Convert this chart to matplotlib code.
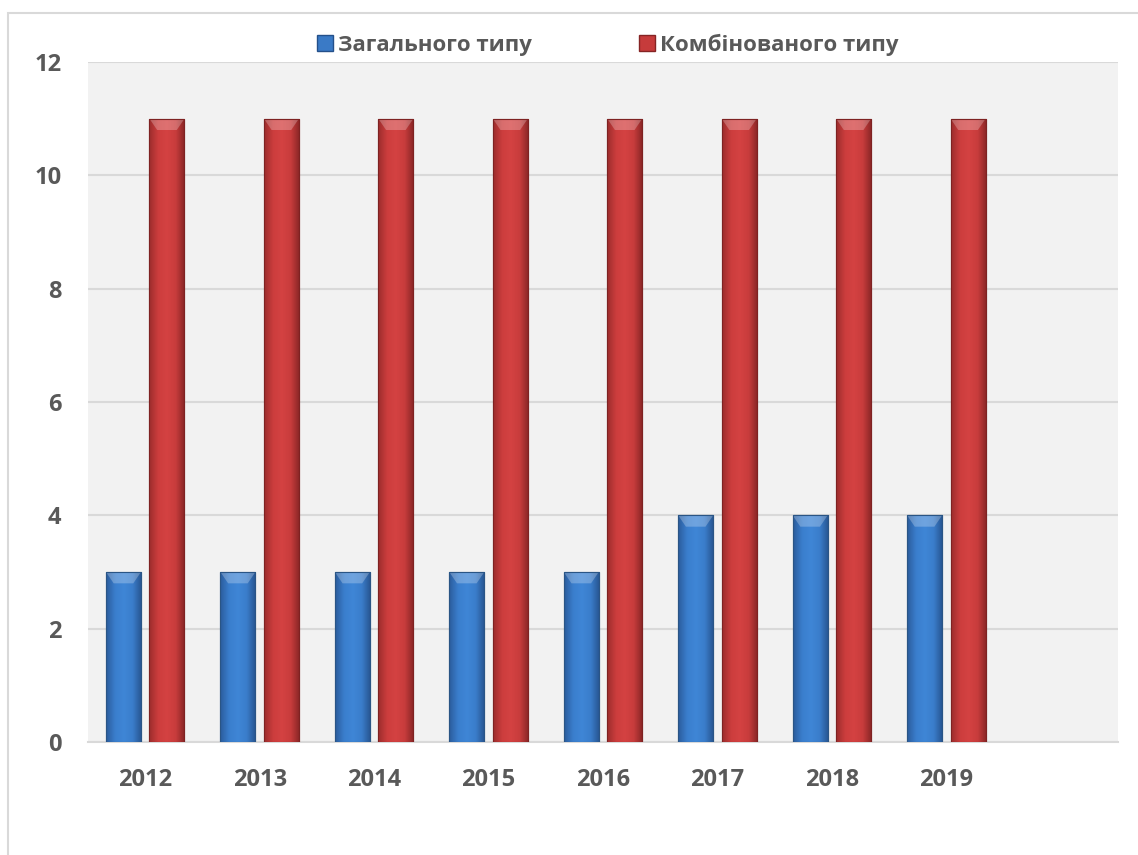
import numpy as np
import matplotlib
matplotlib.use("Agg")
import matplotlib.pyplot as plt
from matplotlib.colors import LinearSegmentedColormap
from matplotlib.lines import Line2D
from matplotlib.patches import Rectangle

plt.rcParams['font.family'] = ['Open Sans', 'Lato', 'DejaVu Sans']
plt.rcParams['font.weight'] = 'bold'

# data
years = ["2012", "2013", "2014", "2015", "2016", "2017", "2018", "2019"]
general = [3, 3, 3, 3, 3, 4, 4, 4]
combined = [11, 11, 11, 11, 11, 11, 11, 11]
series_names = ["Загального типу", "Комбінованого типу"]

TEXT = "#595959"
GRID = "#d9d9d9"

blue_cmap = LinearSegmentedColormap.from_list("b", ["#2b5c9c", "#3a7ecd", "#3f86d6", "#3a7dcb", "#27548f"])
red_cmap = LinearSegmentedColormap.from_list("r", ["#9c2d2d", "#cc3d3d", "#d44242", "#c83c3c", "#882626"])

fig = plt.figure(figsize=(11.38, 8.55), dpi=100)
# outer chart border
fig.patches.append(Rectangle((8 / 1138, -0.05), 1.2, 1 - 13 / 855 + 0.05,
                             transform=fig.transFigure, fill=False,
                             edgecolor="#d9d9d9", linewidth=1.5))

ax = fig.add_axes([88 / 1138, 1 - 742 / 855, (1118 - 88) / 1138, (742 - 62) / 855])
ax.set_facecolor("#f2f2f2")

x = np.arange(len(years))
w = 0.306
off = 0.19
bars1 = ax.bar(x - off, general, w, color="#3a7ac6", edgecolor="#2a5585", linewidth=0.8, zorder=3)
bars2 = ax.bar(x + off, combined, w, color="#c63b3b", edgecolor="#7e2222", linewidth=0.8, zorder=3)

# gradient fill clipped to each bar
grad = np.linspace(0, 1, 64).reshape(1, -1)
for bars, cmap in ((bars1, blue_cmap), (bars2, red_cmap)):
    for p in bars:
        x0, y0, bw, bh = p.get_x(), p.get_y(), p.get_width(), p.get_height()
        im = ax.imshow(grad, extent=[x0, x0 + bw, y0, y0 + bh], aspect="auto",
                       cmap=cmap, zorder=3.5, interpolation="bicubic")
        im.set_clip_path(p)
        # bevel highlight on top
        bev = 0.2
        ax.fill([x0, x0 + bw, x0 + bw * 0.78, x0 + bw * 0.22],
                [y0 + bh, y0 + bh, y0 + bh - bev, y0 + bh - bev],
                color="white", alpha=0.25, zorder=3.6, linewidth=0)
        ax.add_patch(Rectangle((x0, y0), bw, bh, fill=False,
                               edgecolor=p.get_edgecolor(), linewidth=0.8, zorder=3.7))

ax.set_xlim(-0.5, len(years) + 0.5)
ax.set_ylim(0, 12)
ax.set_yticks(range(0, 13, 2))
ax.set_xticks(x)
ax.set_xticklabels(years)
ax.grid(axis="y", color=GRID, linewidth=1.5, zorder=0)
ax.set_axisbelow(True)
for s in ("top", "right", "left"):
    ax.spines[s].set_visible(False)
ax.spines["bottom"].set_color(GRID)
ax.spines["bottom"].set_linewidth(1.5)
ax.tick_params(axis="both", length=0, colors=TEXT, labelsize=17)
ax.tick_params(axis="y", pad=19)
ax.tick_params(axis="x", pad=19)
for t in ax.get_xticklabels() + ax.get_yticklabels():
    t.set_fontweight("bold")

handles = [
    Line2D([], [], marker="s", linestyle="none", markersize=12,
           markerfacecolor="#3a7ac6", markeredgecolor="#24508a"),
    Line2D([], [], marker="s", linestyle="none", markersize=12,
           markerfacecolor="#c63b3b", markeredgecolor="#852424"),
]
leg = fig.legend(handles, series_names, loc="center", bbox_to_anchor=(608 / 1138, 1 - 45 / 855),
                 ncol=2, frameon=False, handlelength=0.7, handletextpad=0.25,
                 columnspacing=4.8, prop={"size": 16, "weight": "bold"})
for t in leg.get_texts():
    t.set_color(TEXT)

fig.savefig("out.png", dpi=100, facecolor="white")
